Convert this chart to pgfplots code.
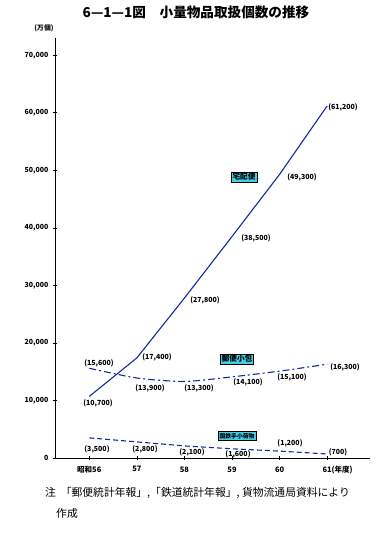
\documentclass[border=0pt]{standalone}
\usepackage{fontspec}
\setmainfont{Noto Sans CJK JP}
\usepackage{pgfplots}
\pgfplotsset{compat=1.18}
\definecolor{lineblue}{RGB}{20,40,160}
\definecolor{boxcyan}{RGB}{70,205,230}
\begin{document}
\begin{tikzpicture}[x=1pt,y=1pt]
\path[use as bounding box] (0,0) rectangle (389,-534);
\begin{axis}[at={(55pt,-458pt)}, anchor=south west, scale only axis,
  width=315pt, height=420pt,
  xmin=-0.72, xmax=5.9, ymin=0, ymax=73000,
  axis lines=left, axis line style={-, line width=0.9pt, black},
  xtick={0,...,5}, xticklabels={昭和56,57,58,59,60,61\rlap{(年度)}},
  ytick={0,10000,...,70000}, scaled y ticks=false,
  /pgf/number format/assume math mode=true,
  /pgf/number format/1000 sep={,},
  yticklabel style={font=\fontsize{7}{7}\bfseries\selectfont, xshift=-1pt},
  xticklabel style={font=\fontsize{7.5}{8}\bfseries\selectfont, yshift=-3pt},
  tick style={black, line width=0.6pt}, major tick length=4pt, tick align=center,
  clip=false]
\addplot[lineblue, line width=1.1pt] coordinates {(0,10700) (1,17400) (2,27800) (3,38500) (4,49300) (5,61200)};
\addplot[lineblue, line width=1.1pt, smooth, tension=0.4, dash pattern=on 7pt off 3pt on 2pt off 3pt] coordinates {(0,15600) (1,13900) (2,13300) (3,14100) (4,15100) (5,16300)};
\addplot[lineblue, line width=1.1pt, dash pattern=on 5pt off 3pt] coordinates {(0,3500) (1,2800) (2,2100) (3,1600) (4,1200) (5,700)};
\end{axis}
% data labels
\begin{scope}[every node/.style={font=\fontsize{7}{7}\bfseries\selectfont, inner sep=0pt}]
\node at (343,-107) {(61,200)};
\node at (302,-177) {(49,300)};
\node at (256,-238) {(38,500)};
\node at (205,-300) {(27,800)};
\node at (157,-357) {(17,400)};
\node at (98,-403) {(10,700)};
\node at (99,-363) {(15,600)};
\node at (150,-388) {(13,900)};
\node at (199,-388) {(13,300)};
\node at (248,-382) {(14,100)};
\node at (292,-377) {(15,100)};
\node at (345,-367) {(16,300)};
\node at (97,-449) {(3,500)};
\node at (145,-449) {(2,800)};
\node at (192,-452) {(2,100)};
\node at (238,-454) {(1,600)};
\node at (290,-443) {(1,200)};
\node at (338,-452) {(700)};
\end{scope}
% series name boxes
\begin{scope}[every node/.style={draw=black, line width=0.8pt, fill=boxcyan, bold/.style={}, inner xsep=1.5pt, inner ysep=1.3pt}]
\node[font=\fontsize{7.6}{8}\bfseries\selectfont] at (244,-177) {宅配便};
\node[font=\fontsize{7.6}{8}\bfseries\selectfont] at (237,-359) {郵便小包};
\node[font=\fontsize{5.8}{6}\bfseries\selectfont, inner ysep=1.8pt] at (237,-436) {国鉄手小荷物};
\end{scope}
% title, unit, note
\node[font=\fontsize{13.6}{14}\bfseries\selectfont, inner sep=0pt] at (196,-12) {6—1—1図\quad 小量物品取扱個数の推移};
\node[font=\fontsize{6.8}{7}\bfseries\selectfont, inner sep=0pt] at (44,-28) {(万個)};
\node[font=\fontsize{10.8}{11}\selectfont, inner sep=0pt, anchor=west] at (45,-493) {注\ \ 「郵便統計年報」,「鉄道統計年報」, 貨物流通局資料により};
\node[font=\fontsize{10.8}{11}\selectfont, inner sep=0pt, anchor=west] at (56,-513) {作成};
\end{tikzpicture}
\end{document}
